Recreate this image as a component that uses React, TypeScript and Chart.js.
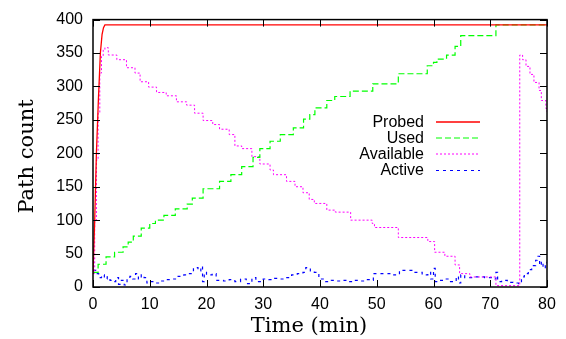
import React, { useEffect, useRef } from 'react';
import { Chart, registerables } from 'chart.js';

Chart.register(...registerables);

// ---------- data ----------
const xTickValues = [0, 10, 20, 30, 40, 50, 60, 70, 80];
const yTickValues = [0, 50, 100, 150, 200, 250, 300, 350, 400];

const seriesLabels = ['Probed', 'Used', 'Available', 'Active'];
const axisTitleX = 'Time (min)';
const axisTitleY = 'Path count';

const probedT = [0, 0.3, 0.6, 0.95, 1.3, 1.6, 1.85, 2.1, 80];
const probedV = [20, 100, 200, 280, 350, 378, 388, 392, 392];

const usedT = [0, 0.9, 2.3, 3.8, 5.3, 6.2, 7.1, 8.5, 10.0, 11.0, 12.5, 14.5, 16.6, 17.5, 19.4, 22.3, 24.3, 26.2, 28.2, 29.4, 31.2, 33.0, 35.3, 37.1, 38.2, 39.1, 41.2, 42.6, 45.3, 49.3, 53.8, 58.9, 60.0, 60.6, 62.3, 63.8, 64.8, 71.0, 80];
const usedV = [22, 34, 45, 52, 60, 67, 76, 88, 95, 100, 107, 117, 124, 133, 147, 158, 168, 180, 194, 207, 218, 228, 238, 251, 258, 268, 279, 285, 293, 304, 319, 331, 336, 341, 347, 360, 376, 392, 392];

const availableT = [0, 0.3, 0.6, 0.9, 1.2, 1.5, 1.8, 2.1, 2.7, 4.2, 5.9, 7.4, 8.3, 9.8, 11.2, 12.9, 14.7, 16.5, 17.9, 19.4, 21.1, 22.3, 24.0, 25.0, 26.2, 28.0, 29.4, 31.2, 31.8, 34.1, 35.6, 37.0, 38.1, 39.0, 41.2, 42.7, 45.4, 49.2, 49.6, 53.8, 59.0, 60.2, 62.0, 63.8, 64.6, 66.4, 71.0, 75.2, 75.7, 76.3, 77.0, 77.7, 78.6, 79.0, 79.8, 80];
const availableV = [20, 100, 190, 260, 320, 345, 355, 358, 347, 340, 328, 320, 307, 299, 291, 286, 277, 272, 260, 249, 243, 236, 228, 211, 207, 195, 184, 175, 168, 158, 150, 141, 131, 125, 115, 112, 100, 95, 89, 74, 68, 52, 46, 33, 20, 15, 2, 347, 340, 330, 318, 306, 294, 279, 267, 262];

const activeT = [0, 0.5, 1, 1.5, 2, 2.5, 3, 3.5, 4, 4.5, 5, 5.5, 6, 6.5, 7, 7.5, 8, 8.5, 9, 9.5, 10, 11, 12, 13, 14, 15, 16, 17, 17.7, 18.5, 19, 19.3, 19.6, 20, 21, 21.7, 23, 24, 25, 26, 27, 28, 28.7, 30, 31, 32, 33, 34, 35, 36, 37, 37.5, 38.3, 39, 39.8, 41, 42, 43, 44, 45, 46, 47, 48, 49, 49.4, 53, 54, 56.4, 58, 59, 59.5, 60, 60.3, 61, 62, 63, 64, 64.4, 64.8, 65.5, 67, 69, 70.5, 71, 71.3, 72, 73, 74, 75, 75.5, 76, 76.7, 77.3, 78, 78.3, 78.7, 79, 79.3, 79.7, 80];
const activeV = [25, 20, 14, 18, 12, 15, 10, 8, 14, 4, 10, 3, 12, 16, 12, 20, 12, 18, 14, 6, 8, 6, 9, 11, 12, 16, 18, 20, 29, 24, 31, 8, 22, 18, 20, 10, 9, 11, 8, 12, 5, 14, 8, 12, 11, 13, 12, 14, 18, 20, 22, 29, 24, 22, 12, 8, 10, 9, 10, 8, 10, 9, 11, 10, 20, 18, 25, 22, 18, 22, 12, 28, 8, 10, 12, 8, 16, 6, 18, 14, 15, 14, 12, 22, 8, 10, 7, 6, 5, 15, 20, 26, 32, 40, 46, 32, 38, 28, 37, 35];

const seriesColors = ['#ff0000', '#00ff00', '#ff00ff', '#0000ff'];
const seriesDash: number[][] = [[], [6, 3], [2, 2], [3, 4]];
const seriesWidth = [1.3, 1.2, 1, 1.2];

const toPoints = (t: number[], v: number[]) => t.map((x, i) => ({ x, y: v[i] }));

const PLOT_LEFT = 93;
const PLOT_RIGHT = 547;
const PLOT_TOP = 12;
const PLOT_BOTTOM = 287;
const W = 566;
const H = 339;

const decorPlugin = {
  id: 'decor',
  afterDatasetsDraw(chart: any) {
    const { ctx, chartArea, scales } = chart;
    const { left, right, top, bottom } = chartArea;
    const xs = scales.x;
    const ys = scales.y;
    ctx.save();
    ctx.strokeStyle = '#000';
    ctx.lineWidth = 1;
    ctx.setLineDash([]);
    ctx.beginPath();
    for (const t of xs.ticks) {
      const px = Math.round(xs.getPixelForValue(t.value)) + 0.5;
      ctx.moveTo(px, bottom);
      ctx.lineTo(px, bottom - 7);
      ctx.moveTo(px, top);
      ctx.lineTo(px, top + 7);
    }
    for (const t of ys.ticks) {
      const py = Math.round(ys.getPixelForValue(t.value)) + 0.5;
      ctx.moveTo(left, py);
      ctx.lineTo(left + 7, py);
      ctx.moveTo(right, py);
      ctx.lineTo(right - 7, py);
    }
    ctx.stroke();
    ctx.lineWidth = 1.5;
    ctx.strokeRect(left, top, right - left, bottom - top);

    // legend
    const rowY = [122, 138, 154, 170.5];
    ctx.font = '16px "Liberation Sans", Arial, sans-serif';
    ctx.fillStyle = '#000';
    ctx.textAlign = 'right';
    ctx.textBaseline = 'middle';
    chart.data.datasets.forEach((ds: any, i: number) => {
      const yy = rowY[i];
      ctx.fillText(ds.label, 424, yy + 0.5);
      ctx.beginPath();
      ctx.strokeStyle = ds.borderColor;
      ctx.lineWidth = ds.borderWidth;
      ctx.setLineDash(ds.borderDash || []);
      ctx.moveTo(436, yy);
      ctx.lineTo(480, yy);
      ctx.stroke();
    });
    ctx.setLineDash([]);

    // axis titles
    ctx.fillStyle = '#000';
    ctx.font = '21px "DejaVu Serif", serif';
    ctx.textAlign = 'center';
    ctx.textBaseline = 'alphabetic';
    ctx.fillText(axisTitleX, 309, 331.5);
    ctx.save();
    ctx.translate(32.5, 156.5);
    ctx.rotate(-Math.PI / 2);
    ctx.fillText(axisTitleY, 0, 0);
    ctx.restore();

    ctx.restore();
  },
};

export default function App() {
  const canvasRef = useRef<HTMLCanvasElement | null>(null);

  useEffect(() => {
    const canvas = canvasRef.current;
    if (!canvas) return;
    const tArrays = [probedT, usedT, availableT, activeT];
    const vArrays = [probedV, usedV, availableV, activeV];
    const stepped: any[] = [false, 'before', 'before', 'before'];
    const chart = new Chart(canvas, {
      type: 'line',
      data: {
        datasets: seriesLabels.map((label, i) => ({
          label,
          data: toPoints(tArrays[i], vArrays[i]),
          borderColor: seriesColors[i],
          backgroundColor: seriesColors[i],
          borderWidth: seriesWidth[i],
          borderDash: seriesDash[i],
          pointRadius: 0,
          fill: false,
          tension: 0,
          stepped: stepped[i],
        })),
      },
      options: {
        animation: false,
        responsive: false,
        devicePixelRatio: 1,
        layout: {
          padding: { left: 0, top: PLOT_TOP, right: W - PLOT_RIGHT, bottom: 0 },
        },
        plugins: {
          legend: { display: false },
          tooltip: { enabled: false },
        },
        scales: {
          x: {
            type: 'linear',
            min: 0,
            max: 80,
            grid: { display: false, drawTicks: false },
            border: { display: false },
            afterBuildTicks: (scale: any) => {
              scale.ticks = xTickValues.map((v) => ({ value: v }));
            },
            afterFit: (scale: any) => {
              scale.height = H - PLOT_BOTTOM;
            },
            ticks: {
              padding: 8,
              color: '#000',
              maxRotation: 0,
              font: { family: '"Liberation Sans", Arial, sans-serif', size: 16 },
              callback: (v: any) => String(v),
            },
          },
          y: {
            type: 'linear',
            min: 0,
            max: 400,
            grid: { display: false, drawTicks: false },
            border: { display: false },
            afterBuildTicks: (scale: any) => {
              scale.ticks = yTickValues.map((v) => ({ value: v }));
            },
            afterFit: (scale: any) => {
              scale.width = PLOT_LEFT;
            },
            ticks: {
              padding: 10,
              color: '#000',
              font: { family: '"Liberation Sans", Arial, sans-serif', size: 16 },
              callback: (v: any) => String(v),
            },
          },
        },
      },
      plugins: [decorPlugin],
    });
    return () => chart.destroy();
  }, []);

  return (
    <div style={{ position: 'fixed', left: 0, top: 0, width: W, height: H, background: '#fff' }}>
      <canvas ref={canvasRef} width={W} height={H} style={{ display: 'block' }} />
    </div>
  );
}
